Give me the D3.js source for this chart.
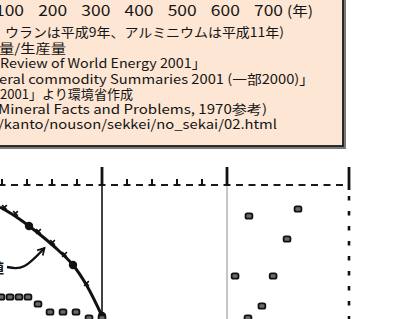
<!DOCTYPE html>
<html>
<head>
<meta charset="utf-8">
<script src="https://cdn.jsdelivr.net/npm/d3@7"></script>
<style>
  html, body { margin: 0; padding: 0; background: #fff; overflow: hidden; }
  svg { display: block; }
  text { font-family: "Noto Sans CJK JP", "Noto Sans", sans-serif; fill: #151515; }
</style>
</head>
<body>
<svg id="chart" width="394" height="319"></svg>
<script>
// 年の目盛り（上の図の横軸ラベル）
const yearTicks = [100, 200, 300, 400, 500, 600, 700];
const yearUnit = "(年)";

// 注記（左端は切れている）
const noteLines = [
  "ウランは平成9年、アルミニウムは平成11年)",
  "量/生産量",
  "Review of World Energy 2001」",
  "eral commodity Summaries 2001 (一部2000)」",
  "2001」より環境省作成",
  "Mineral Facts and Problems, 1970参考)",
  "/kanto/nouson/sekkei/no_sekai/02.html"
];

// 下の図の目盛り
const minorTicks = [-4, -3, -2, -1, 1, 2, 3, 4];
const majorTicks = [0, 5, 10];

// 太い曲線
const curveX = [-4.08, -3.48, -2.92, -2.36, -1.76, -1.16, -0.6, 0];
const curveY = [2.2, 3.1, 4.1, 5.2, 6.5, 8.0, 10.1, 13.1];
// 曲線上の黒丸
const dotX = [-2.92, -1.16, 0];
const dotY = [4.1, 8.0, 13.1];
// 曲線上の小さな×印
const crossX = [-3.92, -3.48, -2.56, -2.0, -1.52, -0.64];
const crossY = [2.4, 3.0, 4.8, 5.9, 7.1, 10.0];

// 点列（左）
const rowX = [-4.04, -3.68, -3.32, -2.96, -2.56, -2.08, -1.56, -1.04, -0.52, 0];
const rowY = [11.2, 11.2, 11.2, 11.2, 11.9, 12.7, 12.7, 12.7, 13.3, 13.3];

// 点（右）
const scatterX = [5.9, 7.91, 7.46, 5.33, 6.89, 6.43, 5.86];
const scatterY = [3.1, 2.4, 5.4, 9.1, 9.1, 12.1, 13.3];

// 矢印
const arrowX = [-3.8, -3.1, -2.3];
const arrowY = [8.2, 8.1, 6.3];

const svg = d3.select("#chart");

// 注記の枠
const box = svg.append("g");
box.append("rect")
  .attr("x", -10).attr("y", -10)
  .attr("width", 356).attr("height", 159)
  .attr("fill", "#7a7a7a");
box.append("rect")
  .attr("x", -10).attr("y", -10)
  .attr("width", 353).attr("height", 156)
  .attr("fill", "#fde6d4")
  .attr("stroke", "#1c1c1c")
  .attr("stroke-width", 1.8);

// 年の軸
const xYear = d3.scaleLinear().domain([100, 700]).range([9, 268]);
const yearAxis = svg.append("g")
  .attr("transform", "translate(0,5)")
  .call(d3.axisBottom(xYear).tickValues(yearTicks).tickSize(0).tickPadding(0));
yearAxis.select(".domain").remove();
yearAxis.selectAll("text")
  .attr("fill", "#151515")
  .style("font-size", "15px")
  .attr("dy", "0.7em")
  .attr("textLength", 29)
  .attr("lengthAdjust", "spacingAndGlyphs");

svg.append("text")
  .attr("x", 287).attr("y", 15.5)
  .style("font-size", "14px")
  .attr("textLength", 26)
  .attr("lengthAdjust", "spacingAndGlyphs")
  .text(yearUnit);

// 注記の行
const noteX = [5, -1, 0, -1, 0, -2, -2];
const noteW = [279, 67, 206, 315, 133, 269, 279];
const noteY = [37, 53, 68, 84, 99, 114, 129];
svg.append("g").selectAll("text")
  .data(noteLines)
  .join("text")
  .attr("x", (d, i) => noteX[i])
  .attr("y", (d, i) => noteY[i])
  .style("font-size", "13px")
  .attr("textLength", (d, i) => noteW[i])
  .attr("lengthAdjust", "spacingAndGlyphs")
  .text(d => d);

// 下の図
const x = d3.scaleLinear().domain([-4.08, 0, 5, 10]).range([0, 102, 227, 349]);
const y = d3.scaleLinear().domain([0, 13.4]).range([185, 319]);

const plot = svg.append("g");

// 縦線
plot.append("line")
  .attr("x1", x(5)).attr("x2", x(5))
  .attr("y1", y(0)).attr("y2", 319)
  .attr("stroke", "#8c8c8c").attr("stroke-width", 1);
plot.append("line")
  .attr("x1", x(0)).attr("x2", x(0))
  .attr("y1", y(0)).attr("y2", 319)
  .attr("stroke", "#111").attr("stroke-width", 1.6);
plot.append("line")
  .attr("x1", x(10)).attr("x2", x(10))
  .attr("y1", y(0.5)).attr("y2", 319)
  .attr("stroke", "#111").attr("stroke-width", 2.6)
  .attr("stroke-dasharray", "4.5,10.5")
  .attr("stroke-dashoffset", -6);

// 目盛りの破線
plot.append("line")
  .attr("x1", 0).attr("x2", x(10))
  .attr("y1", y(0)).attr("y2", y(0))
  .attr("stroke", "#1a1a1a").attr("stroke-width", 2)
  .attr("stroke-dasharray", "7,5.5")
  .attr("stroke-dashoffset", 1.5);

plot.selectAll(".minor")
  .data(minorTicks)
  .join("line")
  .attr("class", "minor")
  .attr("x1", d => x(d)).attr("x2", d => x(d))
  .attr("y1", y(0) - 6).attr("y2", y(0))
  .attr("stroke", "#111").attr("stroke-width", 2);

plot.selectAll(".major")
  .data(majorTicks)
  .join("line")
  .attr("class", "major")
  .attr("x1", d => x(d)).attr("x2", d => x(d))
  .attr("y1", y(0) - 18).attr("y2", (d, i) => i === 2 ? y(0.5) : y(0))
  .attr("stroke", "#111").attr("stroke-width", 2.8);

// 曲線
const curveData = curveX.map((d, i) => [d, curveY[i]]);
plot.append("path")
  .datum(curveData)
  .attr("fill", "none")
  .attr("stroke", "#111")
  .attr("stroke-width", 3)
  .attr("d", d3.line().x(d => x(d[0])).y(d => y(d[1])).curve(d3.curveCatmullRom));

plot.selectAll(".cross")
  .data(crossX.map((d, i) => [d, crossY[i]]))
  .join("path")
  .attr("class", "cross")
  .attr("transform", d => `translate(${x(d[0]) + 0.5},${y(d[1]) - 1.5})`)
  .attr("d", d3.symbol(d3.symbolTimes, 16))
  .attr("fill", "none")
  .attr("stroke", "#111")
  .attr("stroke-width", 1.6);

plot.selectAll(".dot")
  .data(dotX.map((d, i) => [d, dotY[i]]))
  .join("circle")
  .attr("class", "dot")
  .attr("cx", d => x(d[0])).attr("cy", d => y(d[1]))
  .attr("r", 4.2)
  .attr("fill", "#111");

// 矢印
const arrowData = arrowX.map((d, i) => [d, arrowY[i]]);
svg.append("defs").append("marker")
  .attr("id", "head")
  .attr("viewBox", "0 0 10 10")
  .attr("refX", 8).attr("refY", 5)
  .attr("markerWidth", 4).attr("markerHeight", 4)
  .attr("orient", "auto")
  .append("path")
  .attr("d", "M1,1L8,5L1,9")
  .attr("fill", "none")
  .attr("stroke", "#111")
  .attr("stroke-width", 1.8);
plot.append("path")
  .datum(arrowData)
  .attr("fill", "none")
  .attr("stroke", "#111")
  .attr("stroke-width", 2.4)
  .attr("marker-end", "url(#head)")
  .attr("d", d3.line().x(d => x(d[0])).y(d => y(d[1])).curve(d3.curveNatural));

plot.append("text")
  .attr("x", 4).attr("y", y(8.8))
  .attr("text-anchor", "end")
  .style("font-size", "14px")
  .style("font-weight", "bold")
  .text("値");

// 点
const blob = (sel, xs, ys) => sel
  .data(xs.map((d, i) => [d, ys[i]]))
  .join("rect")
  .attr("x", d => x(d[0]) - 3.4).attr("y", d => y(d[1]) - 2.7)
  .attr("width", 6.8).attr("height", 5.4)
  .attr("rx", 1.8)
  .attr("fill", "#6a6a6a")
  .attr("stroke", "#111")
  .attr("stroke-width", 1.8);

blob(plot.selectAll(".row"), rowX, rowY).attr("class", "row");
blob(plot.selectAll(".pt"), scatterX, scatterY).attr("class", "pt");
</script>
</body>
</html>
